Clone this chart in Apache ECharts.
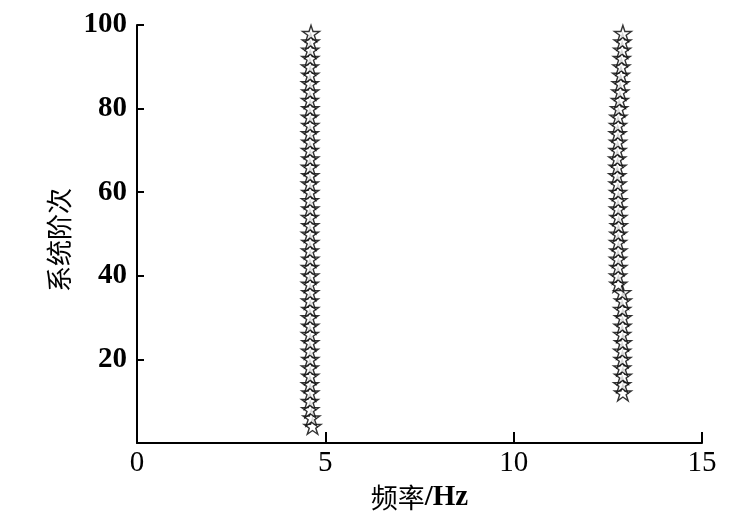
<!DOCTYPE html>
<html>
<head>
<meta charset="utf-8">
<script src="https://cdn.jsdelivr.net/npm/echarts@6/dist/echarts.min.js"></script>
<style>
  html, body { margin: 0; padding: 0; background: #fff; }
  #main { width: 735px; height: 527px; }
</style>
</head>
<body>
<div id="main"></div>
<script>
// 系统阶次 (order) for each column of stable poles
var leftOrders = [4, 6, 8, 10, 12, 14, 16, 18, 20, 22, 24, 26, 28, 30, 32, 34, 36, 38, 40, 42, 44, 46, 48, 50,
  52, 54, 56, 58, 60, 62, 64, 66, 68, 70, 72, 74, 76, 78, 80, 82, 84, 86, 88, 90, 92, 94, 96, 98];
var leftFreq = [4.66, 4.63, 4.6, 4.59, 4.6, 4.59, 4.6, 4.59, 4.6, 4.59, 4.6, 4.59, 4.6, 4.59, 4.6, 4.59,
  4.6, 4.59, 4.6, 4.59, 4.6, 4.59, 4.6, 4.59, 4.6, 4.59, 4.6, 4.59, 4.6, 4.59, 4.6, 4.59,
  4.6, 4.59, 4.6, 4.59, 4.6, 4.59, 4.6, 4.59, 4.6, 4.59, 4.6, 4.59, 4.6, 4.6, 4.61, 4.62];

var rightOrders = [12, 14, 16, 18, 20, 22, 24, 26, 28, 30, 32, 34, 36, 38, 40, 42, 44, 46, 48, 50, 52, 54,
  56, 58, 60, 62, 64, 66, 68, 70, 72, 74, 76, 78, 80, 82, 84, 86, 88, 90, 92, 94, 96, 98];
var rightFreq = [12.9, 12.88, 12.9, 12.88, 12.89, 12.88, 12.9, 12.88, 12.89, 12.9, 12.88, 12.9, 12.88,
  12.78, 12.77, 12.78, 12.77, 12.78, 12.77, 12.78, 12.79, 12.78, 12.77, 12.78, 12.77,
  12.76, 12.75, 12.76, 12.75, 12.76, 12.77, 12.76, 12.77, 12.78, 12.8, 12.82, 12.83, 12.84, 12.85,
  12.86, 12.87, 12.88, 12.89, 12.9];

var xTicks = [0, 5, 10, 15];
var yTicks = [20, 40, 60, 80, 100];

function pairs(xs, ys) {
  return ys.map(function (y, i) { return [xs[i], y]; });
}

var star = 'path://M50 0 L61.23 34.55 L97.55 34.55 L68.17 55.9 L79.39 90.45 L50 69.1 L20.61 90.45 L31.83 55.9 L2.45 34.55 L38.77 34.55 Z';

var myChart = echarts.init(document.getElementById('main'));
var starStyle = { color: '#fff', borderColor: '#000', borderWidth: 1.4 };

var option = {
  animation: false,
  backgroundColor: '#fff',
  grid: { left: 137, right: 33, top: 25, bottom: 84 },
  xAxis: {
    type: 'value',
    min: 0,
    max: 15,
    interval: 5,
    name: '{cn|频率}{en|/Hz}',
    nameLocation: 'middle',
    nameGap: 38,
    nameTextStyle: {
      rich: {
        cn: { fontFamily: 'Noto Sans CJK SC', fontSize: 27, color: '#000' },
        en: { fontFamily: 'Liberation Serif', fontSize: 29, fontWeight: 'bold', color: '#000' }
      }
    },
    splitLine: { show: false },
    axisLine: { lineStyle: { color: '#000', width: 2 } },
    axisTick: { inside: true, length: 11, customValues: [5, 10, 15], lineStyle: { color: '#000', width: 2 } },
    axisLabel: {
      customValues: xTicks,
      margin: 6,
      color: '#000',
      fontFamily: 'Liberation Serif',
      fontSize: 29
    }
  },
  yAxis: {
    type: 'value',
    min: 0,
    max: 100,
    interval: 20,
    name: '系统阶次',
    nameLocation: 'middle',
    nameRotate: 90,
    nameGap: 64,
    nameTextStyle: { fontFamily: 'Noto Sans CJK SC', fontSize: 26, color: '#000', padding: [0, 12, 0, 0] },
    splitLine: { show: false },
    axisLine: { show: true, lineStyle: { color: '#000', width: 2 } },
    axisTick: { show: true, inside: true, length: 7, customValues: yTicks, lineStyle: { color: '#000', width: 2 } },
    axisLabel: {
      customValues: yTicks,
      margin: 10,
      color: '#000',
      fontFamily: 'Liberation Serif',
      fontWeight: 'bold',
      fontSize: 29
    }
  },
  series: [
    {
      type: 'scatter',
      symbol: star,
      symbolSize: [17, 16],
      data: pairs(leftFreq, leftOrders),
      itemStyle: starStyle
    },
    {
      type: 'scatter',
      symbol: star,
      symbolSize: [17, 16],
      data: pairs(rightFreq, rightOrders),
      itemStyle: starStyle
    }
  ]
};
myChart.setOption(option);
</script>
</body>
</html>
